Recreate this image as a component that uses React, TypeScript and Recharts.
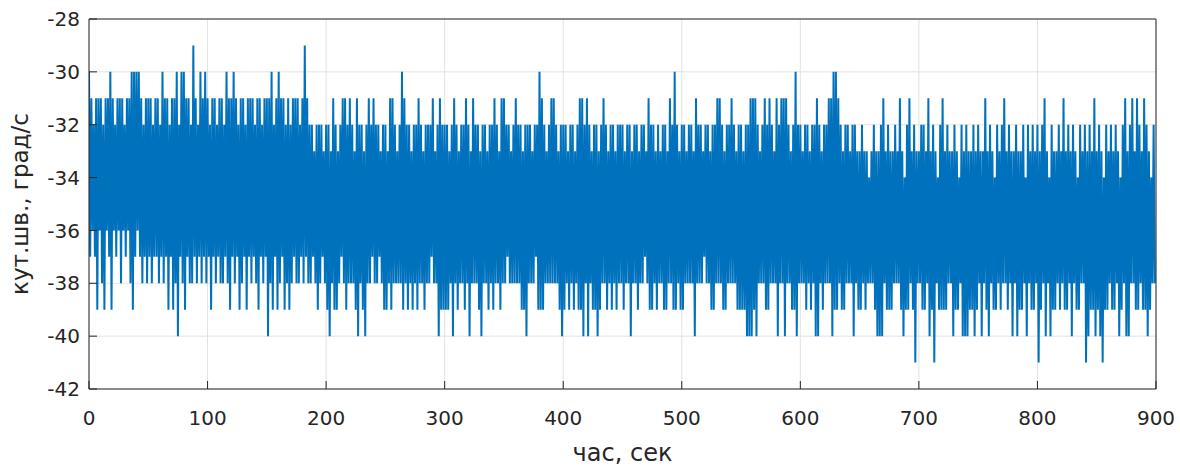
import { CartesianGrid, Label, Line, LineChart, XAxis, YAxis } from "recharts";

// Верхня огинаюча сигналу по 2-секундних інтервалах: код d -> -28 - d (град/с)
const HIGH_CODES = [
  "2343334332", "3433343322", "2234333433", "4233433242", "2334134232",
  "3433433423", "3234334333", "4334333243", "2334343334", "3134454445",
  "4453454334", "3453445434", "3445445334", "5423445443", "4544435434",
  "4454345443", "4534454454", "4345334454", "3445444544", "2345433454",
  "4454454334", "3454454345", "4454445445", "4454453445", "4544534245",
  "4454453445", "4454433454", "4345445443", "3345434345", "3433345424",
  "4544544345", "4433223454", "4544554556", "5455435455", "4535643545",
  "5445354564", "3545545645", "4554545535", "4564543545", "5455464545",
  "4543564554", "5354545645", "4545354564", "5454564354", "3534534564",
];

// Нижня огинаюча по тих самих інтервалах: код d -> -32 - d (град/с)
const LOW_CODES = [
  "5457467457", "4546454675", "4565656556", "5657576856", "7566565656",
  "5756566567", "5657657565", "6756586757", "6576765665", "6566567656",
  "7867765676", "6678678665", "6656776766", "6676767676", "6766566877",
  "7768676676", "8666786676", "7667665666", "6677866657", "7766666678",
  "7676767786", "8677876676", "7676676686", "6766567767", "6677667767",
  "7666686665", "6677666776", "6667777888", "7866677666", "8668667786",
  "6676768867", "6668776776", "6686776766", "6788867776", "6678776796",
  "6776879677", "7766877688", "8778768678", "6776766768", "6877686776",
  "9768687767", "6776867766", "9877878977", "6776876886", "6776778766",
];

const X_TICKS = [0, 100, 200, 300, 400, 500, 600, 700, 800, 900];
const Y_TICKS = [-42, -40, -38, -36, -34, -32, -30, -28];

const high = HIGH_CODES.join("").split("").map((c) => -28 - Number(c));
const low = LOW_CODES.join("").split("").map((c) => -32 - Number(c));

const samples: { t: number; rate: number }[] = [];
high.forEach((v, i) => {
  samples.push({ t: 2 * i, rate: v });
  if (low[i] !== undefined) samples.push({ t: 2 * i + 1, rate: low[i] });
});

const FONT = "DejaVu Sans";
const INK = "#262626";

export default function App() {
  return (
    <div style={{ position: "absolute", left: 0, top: 0, width: 1180, height: 467, background: "#fff" }}>
      <LineChart
        width={1180}
        height={467}
        data={samples}
        margin={{ top: 18, right: 23, bottom: 0, left: 0 }}
      >
        <CartesianGrid stroke="#e2e2e2" strokeWidth={1} />
        <XAxis
          dataKey="t"
          type="number"
          domain={[0, 900]}
          ticks={X_TICKS}
          interval={0}
          allowDataOverflow
          height={78}
          tickSize={-8}
          tickMargin={30}
          stroke={INK}
          tick={{ fill: INK, fontSize: 20, fontFamily: FONT }}
        >
          <Label
            value="час, сек"
            position="insideBottom"
            offset={6}
            style={{ fill: INK, fontSize: 24, fontFamily: FONT }}
          />
        </XAxis>
        <XAxis
          xAxisId="top"
          orientation="top"
          type="number"
          domain={[0, 900]}
          ticks={X_TICKS}
          interval={0}
          allowDataOverflow
          height={1}
          tickSize={-8}
          tick={false}
          stroke={INK}
        />
        <YAxis
          type="number"
          domain={[-42, -28]}
          ticks={Y_TICKS}
          interval={0}
          allowDataOverflow
          width={89}
          tickSize={-8}
          tickMargin={17}
          stroke={INK}
          tick={{ fill: INK, fontSize: 20, fontFamily: FONT }}
        >
          <Label
            value="кут.шв., град/с"
            angle={-90}
            position="insideLeft"
            offset={20}
            style={{ fill: INK, fontSize: 23, fontFamily: FONT, textAnchor: "middle" }}
          />
        </YAxis>
        <YAxis
          yAxisId="right"
          orientation="right"
          type="number"
          domain={[-42, -28]}
          ticks={Y_TICKS}
          interval={0}
          allowDataOverflow
          width={1}
          tickSize={-8}
          tick={false}
          stroke={INK}
        />
        <Line
          type="linear"
          dataKey="rate"
          stroke="#0072BD"
          strokeWidth={2}
          dot={false}
          isAnimationActive={false}
        />
      </LineChart>
    </div>
  );
}
